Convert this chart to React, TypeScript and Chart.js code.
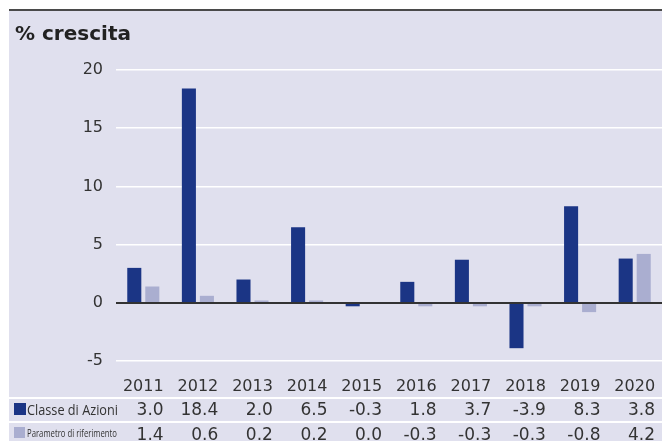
import React, { useEffect, useRef } from "react";
import { Chart, registerables } from "chart.js";

Chart.register(...registerables);

const years = ["2011", "2012", "2013", "2014", "2015", "2016", "2017", "2018", "2019", "2020"];
const classeDiAzioni = [3.0, 18.4, 2.0, 6.5, -0.3, 1.8, 3.7, -3.9, 8.3, 3.8];
const parametro = [1.4, 0.6, 0.2, 0.2, 0.0, -0.3, -0.3, -0.3, -0.8, 4.2];
const seriesNames = ["Classe di Azioni", "Parametro di riferimento"];
const yTicks = { min: -5, max: 20, step: 5 };
const titleText = "% crescita";

const DARK = "#1b3585";
const LIGHT = "#aaaed0";
const BG = "#e0e0ee";
const TEXT = "#333333";
const FONT = "'DejaVu Sans', sans-serif";

const decorPlugin = {
  id: "decor",
  beforeDraw(chart: any) {
    const ctx = chart.ctx;
    ctx.save();
    ctx.fillStyle = "#ffffff";
    ctx.fillRect(0, 0, chart.width, chart.height);
    ctx.fillStyle = BG;
    ctx.fillRect(9, 10, chart.width - 9, chart.height - 10);
    ctx.fillStyle = "#4a4a4a";
    ctx.fillRect(9, 9, chart.width - 9, 2);
    ctx.fillStyle = "#222222";
    ctx.font = "bold 20px " + FONT;
    ctx.textBaseline = "alphabetic";
    ctx.textAlign = "left";
    ctx.fillText(titleText, 15, 40);
    ctx.restore();
  },
  afterDatasetsDraw(chart: any) {
    const ctx = chart.ctx;
    const y = chart.scales.y.getPixelForValue(0);
    ctx.save();
    ctx.fillStyle = "#333333";
    ctx.fillRect(chart.chartArea.left, Math.round(y) - 1, chart.chartArea.right - chart.chartArea.left, 2);
    ctx.restore();
  },
  afterDraw(chart: any) {
    const ctx = chart.ctx;
    const xs = chart.scales.x;
    ctx.save();
    ctx.fillStyle = "#ffffff";
    ctx.fillRect(9, 397, chart.width - 9, 2);
    ctx.fillRect(9, 421, chart.width - 9, 2);
    ctx.fillStyle = DARK;
    ctx.fillRect(14, 403, 12, 12);
    ctx.fillStyle = LIGHT;
    ctx.fillRect(14, 427, 11, 11);
    ctx.fillStyle = TEXT;
    ctx.textAlign = "left";
    ctx.textBaseline = "alphabetic";
    ctx.font = "14px 'Open Sans', sans-serif";
    ctx.fillText(seriesNames[0], 27, 415, 91);
    ctx.font = "10px 'Open Sans', sans-serif";
    ctx.fillText(seriesNames[1], 27, 437, 90);
    const rows = [classeDiAzioni, parametro];
    const baselines = [415, 440];
    years.forEach((yr, i) => {
      ctx.font = "16px " + FONT;
      const w = ctx.measureText(yr).width;
      const right = xs.getPixelForValue(i) + w / 2;
      ctx.font = "17px " + FONT;
      ctx.textAlign = "right";
      rows.forEach((r, k) => {
        ctx.fillText(r[i].toFixed(1), right, baselines[k]);
      });
    });
    ctx.restore();
  },
};

export default function App() {
  const ref = useRef<HTMLCanvasElement>(null);
  useEffect(() => {
    if (!ref.current) return;
    const chart = new Chart(ref.current, {
      type: "bar",
      data: {
        labels: years,
        datasets: [
          { label: seriesNames[0], data: classeDiAzioni, backgroundColor: DARK, barPercentage: 0.78, categoryPercentage: 0.66 },
          { label: seriesNames[1], data: parametro, backgroundColor: LIGHT, barPercentage: 0.78, categoryPercentage: 0.66 },
        ],
      },
      options: {
        responsive: false,
        animation: false,
        layout: { padding: { top: 70, left: 0, right: 0, bottom: 0 } },
        plugins: { legend: { display: false }, tooltip: { enabled: false }, title: { display: false } },
        scales: {
          x: {
            offset: true,
            grid: {
              display: true,
              drawOnChartArea: false,
              drawTicks: true,
              tickLength: 16,
              color: "rgba(0,0,0,0)",
              tickColor: "rgba(0,0,0,0)",
            },
            border: { display: false },
            ticks: { color: TEXT, font: { family: FONT, size: 16 }, padding: 0, maxRotation: 0 },
            afterFit: (s: any) => { s.height = 80; },
          },
          y: {
            min: yTicks.min,
            max: yTicks.max,
            border: { display: false },
            grid: {
              drawTicks: false,
              lineWidth: 1.5,
              color: (c: any) => (c.tick && c.tick.value === 0 ? "rgba(0,0,0,0)" : "#ffffff"),
            },
            ticks: { stepSize: yTicks.step, color: TEXT, font: { family: FONT, size: 16 }, padding: 13 },
            afterFit: (s: any) => { s.width = 116; },
          },
        },
      },
      plugins: [decorPlugin],
    });
    return () => chart.destroy();
  }, []);
  return (
    <div style={{ position: "absolute", left: 0, top: 0, width: 662, height: 441 }}>
      <canvas ref={ref} width={662} height={441} />
    </div>
  );
}
